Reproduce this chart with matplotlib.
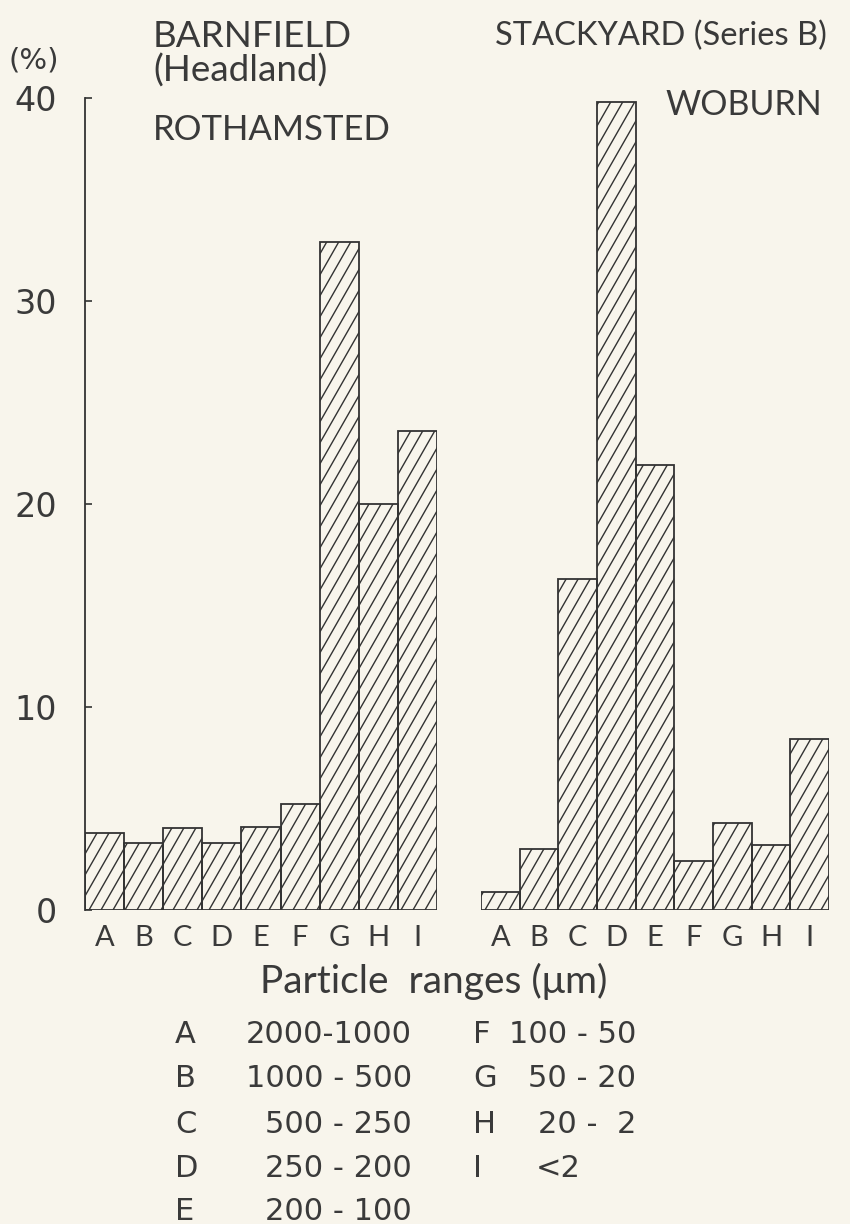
import numpy as np
import matplotlib
matplotlib.use("Agg")
import matplotlib.pyplot as plt
from matplotlib.collections import LineCollection

# ---------- данные ----------------------------------------------------------
categories = list("ABCDEFGHI")
barnfield = [3.8, 3.3, 4.05, 3.3, 4.1, 5.2, 32.9, 20.0, 23.6]
stackyard = [0.9, 3.0, 16.3, 39.8, 21.9, 2.4, 4.3, 3.2, 8.4]
yticks = [0, 10, 20, 30, 40]
ranges_left = ["2000-1000", "1000 - 500", "500 - 250", "250 - 200", "200 - 100"]
ranges_right = ["100 - 50", "50 - 20", "20 -  2", "<2"]

BG = "#f8f5ec"
INK = "#333333"
TXT_C = "#3a3a3a"
W, H = 850, 1224
TXT = ["Lato", "DejaVu Sans"]     # буквы
NUM = ["DejaVu Sans"]             # цифры пошире

plt.rcParams["font.family"] = TXT
plt.rcParams["font.weight"] = "normal"

fig = plt.figure(figsize=(W / 100, H / 100), dpi=100, facecolor=BG)


def px(x, y):
    """пиксели картинки -> доли фигуры"""
    return x / W, 1 - y / H


def hatch_bars(ax, bars, step=12, slope=1.75, lw=1.0):
    # косая штриховка круче 45°, обрезанная по каждому столбцу
    bb = ax.get_position()
    aw, ah = bb.width * W, bb.height * H
    run = ah / slope
    starts = np.arange(-run, aw + step, step)
    segs = [[(s / aw, 0), ((s + run) / aw, 1)] for s in starts]
    for b in bars:
        lc = LineCollection(segs, colors=INK, linewidths=lw,
                            transform=ax.transAxes, zorder=2)
        ax.add_collection(lc)
        lc.set_clip_path(b)


def make_panel(rect, values, show_y):
    ax = fig.add_axes(rect)
    ax.set_facecolor("none")
    x = np.arange(len(categories))
    bars = ax.bar(x, values, width=1.0, facecolor="none",
                  edgecolor=INK, linewidth=1.3, zorder=3)
    hatch_bars(ax, bars)
    ax.set_xlim(-0.5, len(categories) - 0.5)
    ax.set_ylim(0, 40)
    ax.set_xticks(x)
    ax.set_xticklabels(categories, fontsize=21, color=TXT_C)
    ax.tick_params(axis="x", length=0, pad=11)
    for s in ("top", "right", "bottom"):
        ax.spines[s].set_visible(False)
    if show_y:
        ax.spines["left"].set_color(INK)
        ax.spines["left"].set_linewidth(1.3)
        ax.set_yticks(yticks)
        ax.set_yticklabels([f"{v}" for v in yticks], fontsize=24,
                           color=TXT_C, family=NUM)
        ax.tick_params(axis="y", direction="in", length=5, width=1.2,
                       color=INK, pad=20)
    else:
        ax.spines["left"].set_visible(False)
        ax.set_yticks([])
    return ax


ax1 = make_panel([85 / W, 314 / H, 352 / W, 812 / H], barnfield, True)
ax2 = make_panel([481 / W, 314 / H, 348 / W, 812 / H], stackyard, False)

# ---------- подписи -------------------------------------------------------
big = dict(color=TXT_C, va="baseline")
fig.text(*px(153, 47), "BARNFIELD", fontsize=26.5, **big)
fig.text(*px(153, 82), "(Headland)", fontsize=26.5, **big)
fig.text(*px(153, 140), "ROTHAMSTED", fontsize=25, **big)
fig.text(*px(495, 45), "STACKYARD (Series B)", fontsize=23.5, **big)
fig.text(*px(665, 115), "WOBURN", fontsize=24.5, **big)
fig.text(*px(34, 60), "(%)", color=TXT_C, fontsize=21, ha="center",
         va="center", family=NUM)

fig.text(*px(434, 993), "Particle  ranges (\u03bcm)", color=TXT_C, fontsize=28,
         ha="center", va="baseline")

row_y = [1043, 1087, 1133, 1177, 1220]
leg = dict(color=TXT_C, fontsize=22, va="baseline", family=NUM)
for cat, rng, y in zip(categories[:5], ranges_left, row_y):
    fig.text(*px(175, y), cat, **leg)
    fig.text(*px(412, y), rng, ha="right", **leg)
for cat, rng, y in zip(categories[5:], ranges_right, row_y):
    fig.text(*px(473, y), cat, **leg)
    if rng.startswith("<"):
        fig.text(*px(536, y), rng, **leg)
    else:
        fig.text(*px(636, y), rng, ha="right", **leg)

fig.savefig("out.png", dpi=100, facecolor=BG)
